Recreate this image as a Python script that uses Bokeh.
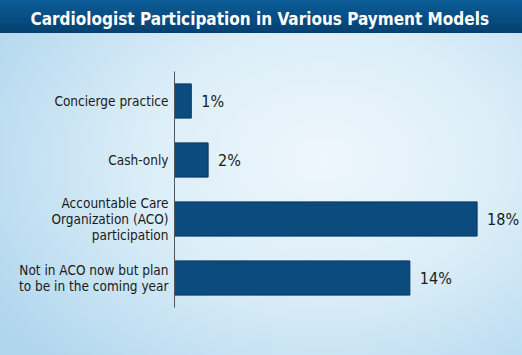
from bokeh.plotting import figure
from bokeh.models import ColumnDataSource, FactorRange, Title
from bokeh.core.properties import value
from bokeh.embed import file_html
from bokeh.resources import INLINE

title_text = "Cardiologist Participation in Various Payment Models"
categories = [
    "Concierge practice",
    "Cash-only",
    "Accountable Care\nOrganization (ACO)\nparticipation",
    "Not in ACO now but plan\nto be in the coming year",
]
values = [1, 2, 18, 14]
value_labels = ["1%", "2%", "18%", "14%"]

FONT = "Liberation Sans Narrow, DejaVu Sans Condensed, Roboto, sans-serif"

src = ColumnDataSource(dict(cat=categories, val=values, lab=value_labels))

p = figure(
    width=522, height=355,
    y_range=FactorRange(factors=list(reversed(categories)), range_padding=0),
    x_range=(0, 20.7),
    output_backend="svg", toolbar_location=None,
    min_border_left=174, min_border_right=0, min_border_top=71, min_border_bottom=48,
)
p.background_fill_alpha = 0
p.border_fill_alpha = 0
p.outline_line_color = None
p.styles = {
    "background": (
        "linear-gradient(to bottom, #0c5d99 0px, #04406f 33px, rgba(0,0,0,0) 33px), "
        "radial-gradient(ellipse 75% 80% at 62% 45%, #eef7fc 0%, #dceef8 45%, #b0d6ee 100%)"
    )
}
p.title.text = ""

# spacer panel (closest to the frame), then the real title further out
p.add_layout(Title(text=" ", text_font=FONT, text_font_size="17px", standoff=15), "above")
p.add_layout(Title(text=title_text, align="left", offset=-144, text_color="white",
                   text_font=FONT, text_font_style="bold", text_font_size="17px",
                   standoff=12), "above")

p.hbar(y="cat", right="val", left=0, height=0.58, source=src,
       fill_color="#0b4b7e", line_color="#07385f", line_width=1)
p.text(x="val", y="cat", text="lab", source=src, x_offset=10,
       text_baseline="middle", text_align="left",
       text_font=value(FONT), text_font_size="16px", text_color="#1a1a1a")

p.xaxis.visible = False
p.xgrid.visible = False
p.ygrid.visible = False
p.yaxis.axis_line_color = "#555555"
p.yaxis.axis_line_width = 1
p.yaxis.major_tick_line_color = None
p.yaxis.minor_tick_line_color = None
p.yaxis.major_label_text_font = FONT
p.yaxis.major_label_text_font_size = "13.5px"
p.yaxis.major_label_text_line_height = 1.0
p.yaxis.major_label_text_color = "#1a1a1a"
p.yaxis.major_label_standoff = 0

open("out.html", "w").write(file_html(p, INLINE))
